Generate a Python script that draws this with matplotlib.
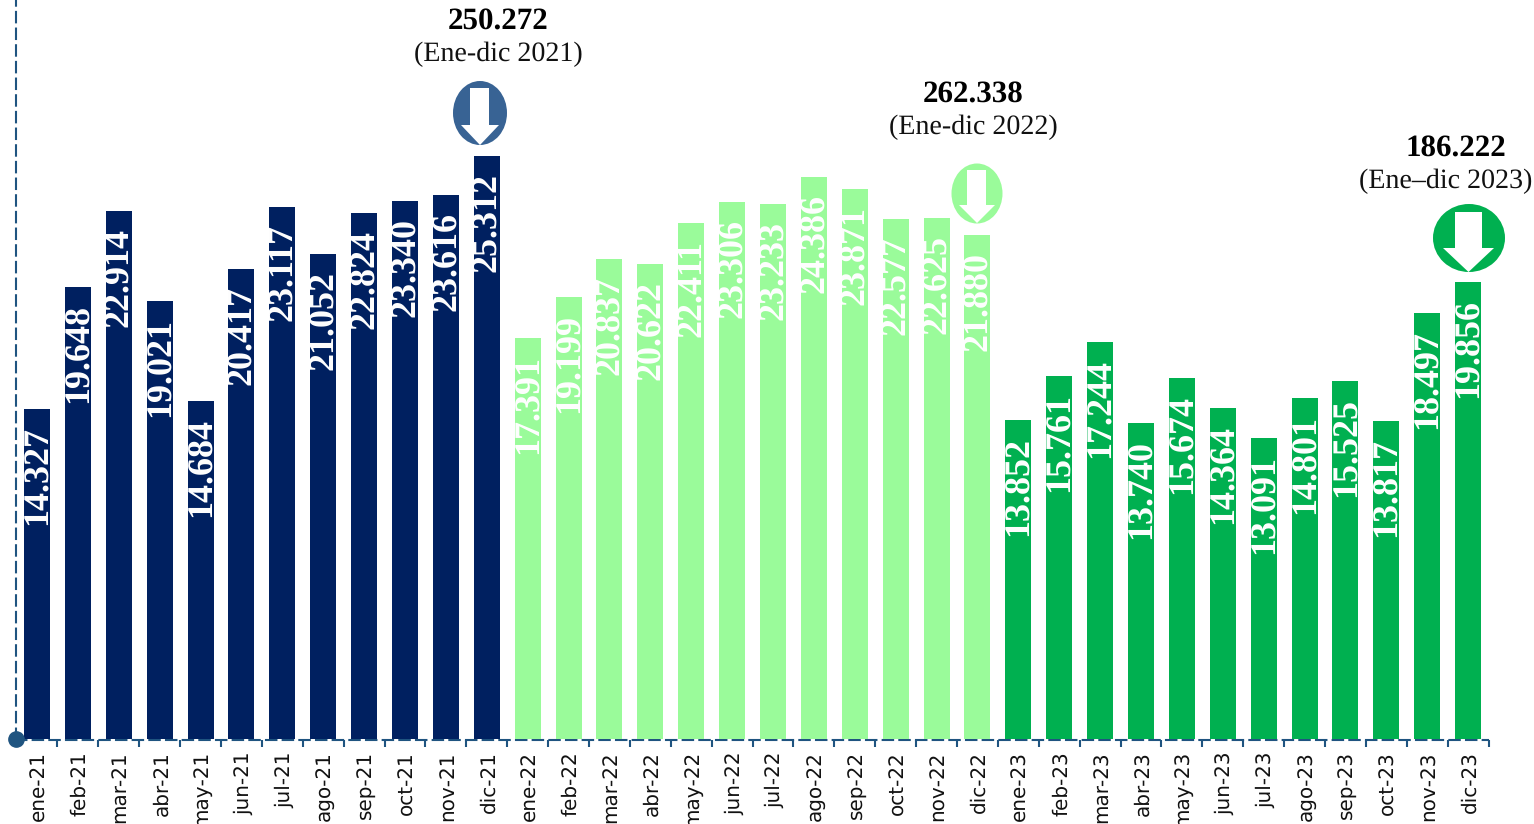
import matplotlib
matplotlib.use("Agg")
import matplotlib.pyplot as plt
from matplotlib.patches import Ellipse, Polygon
from matplotlib.transforms import Affine2D, ScaledTranslation

plt.rcParams["text.hinting"] = "no_hinting"
plt.rcParams["text.hinting_factor"] = 1

W, H = 1534, 824

meses = ["ene", "feb", "mar", "abr", "may", "jun", "jul", "ago", "sep", "oct", "nov", "dic"]
labels = [f"{m}-{a}" for a in ("21", "22", "23") for m in meses]

valores_2021 = [14327, 19648, 22914, 19021, 14684, 20417, 23117, 21052, 22824, 23340, 23616, 25312]
valores_2022 = [17391, 19199, 20837, 20622, 22411, 23306, 23233, 24386, 23871, 22577, 22625, 21880]
valores_2023 = [13852, 15761, 17244, 13740, 15674, 14364, 13091, 14801, 15525, 13817, 18497, 19856]
valores = valores_2021 + valores_2022 + valores_2023

colores = ["#002060"] * 12 + ["#9AFB9A"] * 12 + ["#00B050"] * 12

# posicion en pixeles del grafico de referencia
x0 = 37
paso = 40.89
y0 = 739
px_por_unidad = 0.02303
azul_eje = "#1F5480"

fig = plt.figure(figsize=(W / 100, H / 100), dpi=100)
ax = fig.add_axes([0, 0, 1, 1])
ax.set_xlim(-x0 / paso, (W - x0) / paso)
ax.set_ylim(-(H - y0) / px_por_unidad, y0 / px_por_unidad)
ax.patch.set_visible(False)

x = list(range(36))
ax.bar(x, valores, width=26 / paso, color=colores, zorder=3)

for i, v in enumerate(valores):
    txt = f"{v / 1000:.3f}"
    ax.annotate(txt, (i, v), xytext=(0.7, -17 * 0.72), textcoords="offset points",
                rotation=90, ha="center", va="top", color="white", fontsize=26,
                family="Liberation Serif", fontweight="bold", zorder=4)

# ejes
for s in ("top", "right"):
    ax.spines[s].set_visible(False)
ax.spines["bottom"].set_position(("data", -1 / px_por_unidad))
ax.spines["bottom"].set_bounds((16 - x0) / paso, (1488 - x0) / paso)
ax.spines["left"].set_position(("data", (16 - x0) / paso))
ax.spines["left"].set_bounds(0, y0 / px_por_unidad)
for s in ("bottom", "left"):
    ax.spines[s].set_color(azul_eje)
    ax.spines[s].set_linewidth(1.5)
    ax.spines[s].set_linestyle((0, (5, 3)))

ax.set_yticks([])
ax.set_xticks(x)
ax.set_xticklabels(labels, rotation=90, fontsize=14.4, color="#111111")
ax.set_xticks([i + 0.5 for i in x], minor=True)
ax.tick_params(axis="x", which="major", length=0, pad=8)
ax.tick_params(axis="x", which="minor", length=5, width=1.5, color=azul_eje, direction="out")
for lab in ax.get_xticklabels():
    lab.set_transform(lab.get_transform() + ScaledTranslation(1.5 / 72, 0, fig.dpi_scale_trans))
ax.plot([(16 - x0) / paso], [0], "o", color=azul_eje, ms=11, clip_on=False, zorder=5)

# flechas y totales, en pixeles
px = Affine2D().scale(1, -1).translate(0, H)

totales = ["250.272", "262.338", "186.222"]
periodos = ["(Ene-dic 2021)", "(Ene-dic 2022)", "(Ene–dic 2023)"]
total_x = [498, 973, 1456]
periodo_x = [498.5, 973.5, 1446]
texto_y = [22, 95, 149]

elipses = [(480, 113, 54, 64, "#386394"), (977, 193.5, 51, 60, "#9AFB9A"), (1469, 238, 72, 68, "#00B050")]
# x izq. asta, x der. asta, y sup. asta, y base punta, x izq. punta, x der. punta, y punta
flechas = [(470, 489, 88, 125, 461, 499, 145),
           (967, 986, 170, 205, 959, 995, 223),
           (1455, 1482, 212, 248, 1443, 1494, 272)]

for t, p, tx, px_, ty in zip(totales, periodos, total_x, periodo_x, texto_y):
    ax.text(tx, ty, t, transform=px, ha="center", va="center", fontsize=22,
            family="Liberation Serif", fontweight="bold", color="black")
    ax.text(px_, ty + 32, p, transform=px, ha="center", va="center", fontsize=20.2,
            family="Liberation Serif", color="#111111")

for (cx, cy, ew, eh, c), (a, b, t, m, l, r, tip) in zip(elipses, flechas):
    ax.add_patch(Ellipse((cx, cy), ew, eh, transform=px, facecolor=c, edgecolor="none", zorder=5))
    ax.add_patch(Polygon([(a, t), (b, t), (b, m), (r, m), ((l + r) / 2, tip), (l, m), (a, m)],
                         transform=px, facecolor="white", edgecolor="none", zorder=6))

fig.savefig("out.png", dpi=100)
